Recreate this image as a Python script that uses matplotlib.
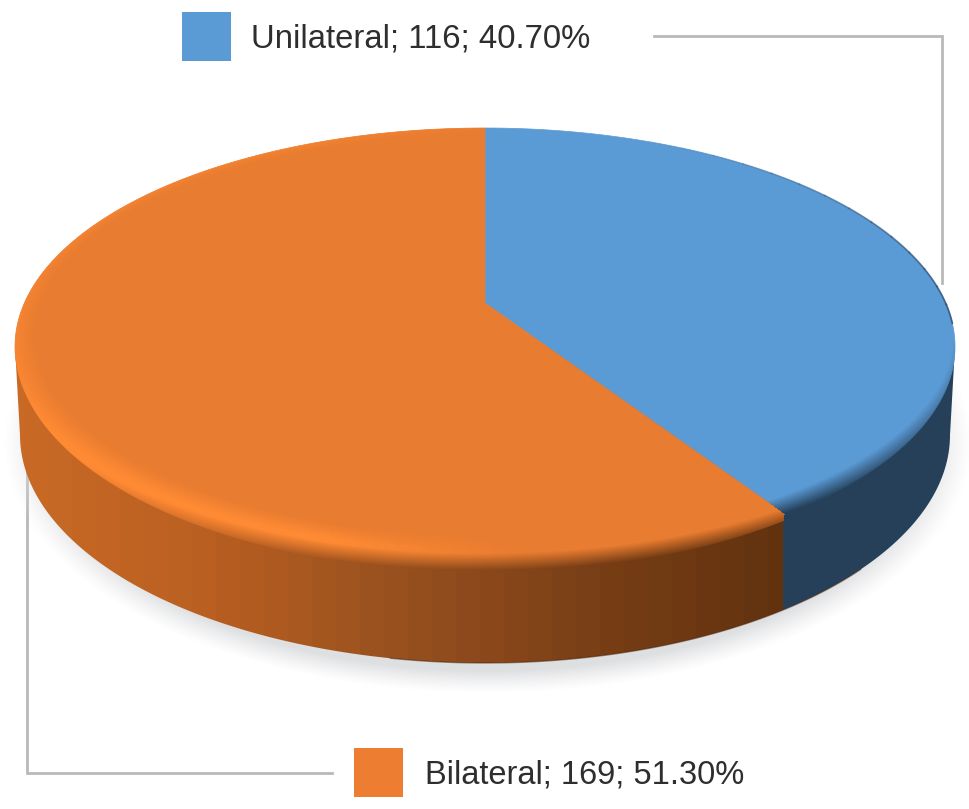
import numpy as np
import matplotlib
matplotlib.use('Agg')
import matplotlib.pyplot as plt
from matplotlib.patches import Polygon, Rectangle

plt.rcParams['font.family'] = ['Liberation Sans', 'DejaVu Sans']

# Data
categories = ['Unilateral', 'Bilateral']
counts = [116, 169]
percent_labels = ['40.70%', '51.30%']
slice_colors = ['#5b9bd5', '#e87c30']
legend_colors = ['#5b9bd5', '#ed7d31']

W, H = 969, 809

# Pie geometry in pixels (top face is a disc seen in perspective)
cx = 485
apex_y = 303
top_y, low_y = 128, 565
face_cy = (top_y + low_y) / 2
face_ry = (low_y - top_y) / 2
half_w = 470
wall_cy, wall_rx, wall_ry = 435, 465, 228
rim_ry = 226

fig = plt.figure(figsize=(W / 100, H / 100), dpi=100)
ax = fig.add_axes([0, 0, 1, 1])


def project(theta):
    # theta in degrees, clockwise from the top of the pie
    c = (low_y + top_y - 2 * apex_y) / (low_y - top_y)
    a = top_y * (1 + c) - apex_y
    A = half_w * np.sqrt(1 - c ** 2)
    t = np.radians(theta + 0.6 * np.sin(np.radians(theta) / 2))
    u, v = np.sin(t), np.cos(t)
    d = 1 + c * v
    return cx + A * u / d, (a * v + apex_y) / d


def ramp(x, lo, hi):
    return np.clip((x - lo) / (hi - lo), 0, 1)


def wedge_pts(start, end):
    th = np.linspace(start, end, 300)
    px, py = project(th)
    return np.column_stack([np.r_[cx, px], np.r_[apex_y, py]])


def wall_shade(x):
    xs = [30, 200, 400, 600, 780]
    return np.stack([np.interp(x, xs, [200, 186, 152, 120, 98]),
                     np.interp(x, xs, [105, 96, 80, 62, 50]),
                     np.interp(x, xs, [38, 34, 30, 22, 15])], axis=-1) / 255


angles = 360 * np.cumsum([0] + counts) / sum(counts)
seam_x, seam_y = project(angles[1])

yy, xx = np.mgrid[0:H, 0:W] + 0.5
extent = (0, W, H, 0)

# soft shadow under the pie
rs = np.hypot((xx - cx - 3) / 484, (yy - 443) / 250)
shadow = np.zeros((H, W, 4))
shadow[..., :3] = np.array([222, 223, 225]) / 255
shadow[..., 3] = ramp(1 - rs, 0, 0.09) ** 1.2
ax.imshow(shadow, extent=extent, zorder=1, interpolation='bilinear')

# side wall, banded shading as in the picture
wx = np.arange(W) + 0.5
bands = (wx // 24) * 24 + 12
wall_rgb = wall_shade(bands)
wall_rgb[wx >= seam_x - 2.5] = np.array([38, 64, 90]) / 255
wall_img = ax.imshow(wall_rgb[None, :, :], extent=extent, zorder=2, aspect='auto',
                     interpolation='nearest')
phi = np.radians(np.linspace(0, 180, 300))
wall_pts = np.column_stack([
    np.r_[cx + half_w, cx + wall_rx * np.cos(phi), cx - half_w],
    np.r_[face_cy, wall_cy + wall_ry * np.sin(phi), face_cy]])
wall_img.set_clip_path(Polygon(wall_pts, closed=True, transform=ax.transData))

# dark line along the foot of the wall
fx = cx + wall_rx * np.cos(phi[60:170])
fy = wall_cy + wall_ry * np.sin(phi[60:170])
ax.plot(fx, fy, color='#4a2408', lw=1, alpha=0.5, zorder=3)

# top face slices
for i in range(len(counts)):
    ax.add_patch(Polygon(wedge_pts(angles[i], angles[i + 1]), closed=True,
                         facecolor=slice_colors[i], edgecolor=slice_colors[i],
                         linewidth=0.5, zorder=3))

# bevel along the front rim, runs a little past the face onto the wall
r2 = np.hypot((xx - cx) / 468, (yy - 335) / 208)
r3 = np.hypot((xx - cx) / half_w, (yy - face_cy) / face_ry)
line_x = cx + (seam_x - cx) * (yy - apex_y) / (seam_y - apex_y)
is_blue = np.where(yy < seam_y, xx >= line_x, xx >= seam_x - 1.5)
is_blue &= (xx > cx) | (yy > apex_y)
rim_th = np.radians(np.linspace(0, 360, 720))
rim_cos = np.cos(rim_th)
rim_clip = Polygon(np.column_stack([cx + half_w * np.sin(rim_th),
                                    face_cy + np.where(rim_cos > 0, rim_ry, face_ry) * rim_cos]),
                   closed=True, transform=ax.transData)

blue_rim = np.zeros((H, W, 4))
blue_rim[..., :3] = np.array([38, 64, 90]) / 255
blue_rim[..., 3] = ramp(r2, 1.0, 1.07) * is_blue
im = ax.imshow(blue_rim, extent=extent, zorder=4, interpolation='bilinear')
im.set_clip_path(rim_clip)

base = np.array([232, 124, 48]) / 255
glow = np.array([255, 138, 52]) / 255
g = ramp(xx, 330, 520)[..., None]
lit = glow * (1 - g) + base * g
mix = ramp(r2, 1.05, 1.13)[..., None]
orange_rim = np.zeros((H, W, 4))
orange_rim[..., :3] = lit * (1 - mix) + wall_shade(xx) * mix
orange_rim[..., 3] = np.maximum(ramp(r2, 0.96, 1.03), 0.5 * ramp(r3, 0.975, 1.0)) * ~is_blue
orange_rim[..., 3] *= (yy > face_cy) | (xx < cx)
im = ax.imshow(orange_rim, extent=extent, zorder=4, interpolation='bilinear')
im.set_clip_path(rim_clip)

# thin dark edge on the back right of the blue slice
edge_th = np.linspace(25, 95, 15)
for k in range(len(edge_th) - 1):
    ex, ey = project(np.linspace(edge_th[k], edge_th[k + 1], 8))
    ax.plot(ex, ey, color='#2f4f70', lw=1.3, alpha=0.8 * (k + 1) / 14, zorder=5)

# leader lines
line_color = '#b9b9b9'
ax.plot([654, 942, 942], [36, 36, 283], color=line_color, lw=2, zorder=0,
        solid_joinstyle='miter')
ax.plot([27, 27, 332], [465, 773, 773], color=line_color, lw=2, zorder=0,
        solid_joinstyle='miter')

# labels
label_pos = [(182, 36, 251, 35, 23.7), (354, 772, 425, 772, 23.5)]
for i, (bx, by, tx, ty, fs) in enumerate(label_pos):
    ax.add_patch(Rectangle((bx, by - 24.5), 49.5, 49, facecolor=legend_colors[i],
                           edgecolor='none', zorder=6))
    ax.text(tx, ty, f'{categories[i]}; {counts[i]}; {percent_labels[i]}', fontsize=fs,
            color='#2e2e2e', va='center_baseline', ha='left', zorder=6)

ax.set_xlim(0, W)
ax.set_ylim(H, 0)
ax.axis('off')

fig.savefig('out.png', dpi=100)
